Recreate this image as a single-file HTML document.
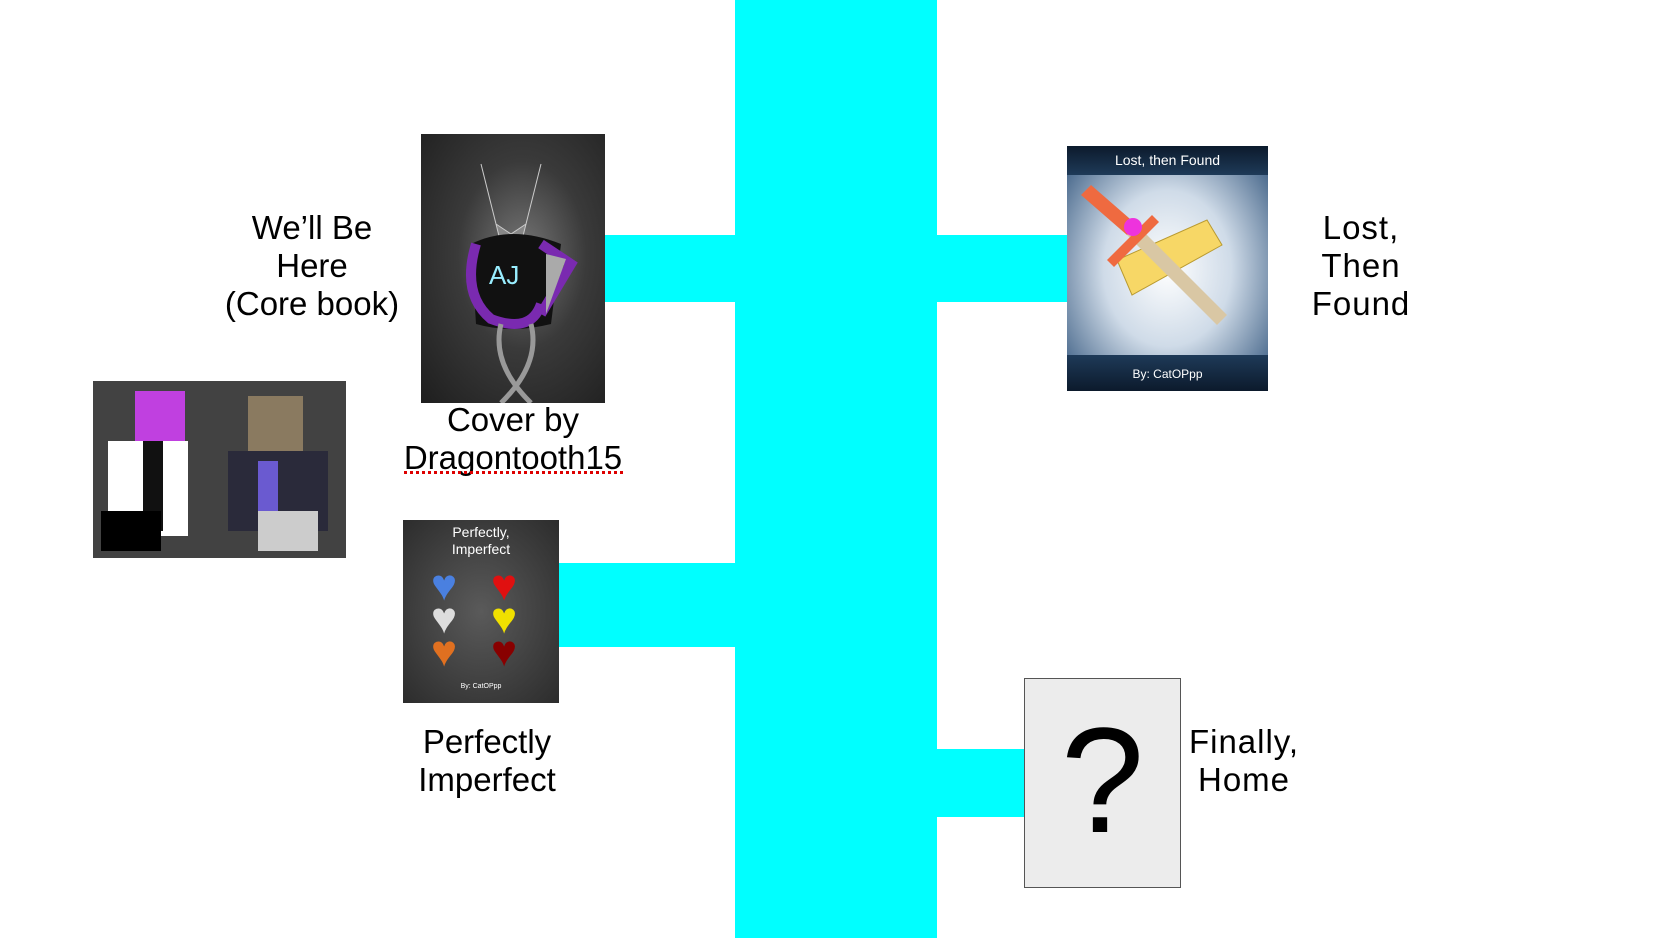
<!DOCTYPE html>
<html><head><meta charset="utf-8"><style>
body{margin:0;width:1667px;height:938px;background:#fff;position:relative;overflow:hidden;font-family:"Liberation Sans",Arial,sans-serif;}
.a{position:absolute}
.c{background:#00ffff;position:absolute}
.t{position:absolute;font-size:33px;color:#000;text-align:center;line-height:38px;white-space:nowrap}
.h{position:absolute;font-size:44px;line-height:44px}
</style></head><body>
<div class="c" style="left:735px;top:0;width:202px;height:938px"></div>
<div class="c" style="left:605px;top:235px;width:130px;height:67px"></div>
<div class="c" style="left:559px;top:563px;width:176px;height:84px"></div>
<div class="c" style="left:937px;top:235px;width:130px;height:67px"></div>
<div class="c" style="left:937px;top:749px;width:87px;height:68px"></div>

<!-- cover 1 -->
<div class="a" style="left:421px;top:134px;width:184px;height:269px;background:radial-gradient(ellipse at 55% 45%,#777 0%,#3a3a3a 45%,#1e1e1e 100%)">
<svg width="184" height="269">
<path d="M60 30 L80 110 L100 110 L120 30 L105 90 L90 100 L75 90Z" fill="#888" stroke="#ccc"/>
<path d="M50 110 Q90 90 140 110 L130 190 Q90 200 55 190Z" fill="#111"/>
<path d="M55 110 Q40 160 70 185 Q110 200 120 170 M120 110 L150 130 L120 180" stroke="#7a2ab0" stroke-width="10" fill="none"/>
<path d="M125 120 L145 125 L125 180Z" fill="#aaa"/>
<text x="68" y="150" font-size="26" fill="#9ef" font-family="Liberation Sans">AJ</text>
<path d="M80 190 Q70 230 110 269 M110 190 Q120 230 80 269" stroke="#999" stroke-width="5" fill="none"/>
</svg></div>
<div class="t" style="left:212px;top:209px;width:200px">We’ll Be<br>Here<br>(Core book)</div>
<div class="t" style="left:403px;top:401px;width:220px">Cover by<br>Dragontooth15</div>
<div class="a" style="left:404px;top:471px;width:219px;border-top:3px dotted #d00"></div>

<!-- minecraft -->
<div class="a" style="left:93px;top:381px;width:253px;height:177px;background:#424242">
<div class="a" style="left:42px;top:10px;width:50px;height:50px;background:#c040e0"></div>
<div class="a" style="left:15px;top:60px;width:80px;height:95px;background:#fff"></div>
<div class="a" style="left:50px;top:60px;width:20px;height:90px;background:#111"></div>
<div class="a" style="left:8px;top:130px;width:60px;height:40px;background:#000"></div>
<div class="a" style="left:155px;top:15px;width:55px;height:55px;background:#8a7a60"></div>
<div class="a" style="left:135px;top:70px;width:100px;height:80px;background:#2a2a3a"></div>
<div class="a" style="left:165px;top:80px;width:20px;height:60px;background:#6a5ad0"></div>
<div class="a" style="left:165px;top:130px;width:60px;height:40px;background:#ccc"></div>
</div>

<!-- perfectly cover -->
<div class="a" style="left:403px;top:520px;width:156px;height:183px;background:radial-gradient(ellipse at 50% 50%,#5a5a5a,#2c2c2c);color:#fff;text-align:center">
<div style="font-size:14px;line-height:17px;margin-top:4px">Perfectly,<br>Imperfect</div>
<div class="h" style="left:28px;top:44px;color:#4a80e0">♥</div>
<div class="h" style="left:88px;top:44px;color:#e01010">♥</div>
<div class="h" style="left:28px;top:77px;color:#ddd">♥</div>
<div class="h" style="left:88px;top:77px;color:#f0e000">♥</div>
<div class="h" style="left:28px;top:110px;color:#e07020">♥</div>
<div class="h" style="left:88px;top:110px;color:#800">♥</div>
<div class="a" style="left:0;top:163px;width:156px;font-size:7px">By: CatOPpp</div>
</div>
<div class="t" style="left:387px;top:723px;width:200px">Perfectly<br>Imperfect</div>

<!-- lost cover -->
<div class="a" style="left:1067px;top:146px;width:201px;height:245px;background:radial-gradient(ellipse at 50% 50%,#fff 0%,#cfdbe8 45%,#2c5078 100%)">
<div class="a" style="left:0;top:0;width:201px;height:29px;background:linear-gradient(#0c1a2c,#1e3a58);color:#fff;font-size:14px;line-height:29px;text-align:center">Lost, then Found</div>
<svg class="a" style="left:0;top:29px" width="201" height="180">
<path d="M50 85 L140 45 L155 70 L65 120Z" fill="#f7d766" stroke="#b99a30"/>
<path d="M70 50 L160 140 L150 150 L60 60Z" fill="#d9c7a4"/>
<path d="M14 20 L24 10 L70 50 L60 60Z" fill="#ef6a40"/>
<path d="M40 85 L85 40 L92 47 L47 92Z" fill="#ef6a40"/>
<circle cx="66" cy="52" r="9" fill="#ee33dd"/>
</svg>
<div class="a" style="left:0;top:209px;width:201px;height:36px;background:linear-gradient(#1e3a58,#0c1a2c);color:#fff;font-size:12px;line-height:38px;text-align:center">By: CatOPpp</div>
</div>
<div class="t" style="left:1281px;top:209px;width:160px;letter-spacing:1px">Lost,<br>Then<br>Found</div>

<!-- question -->
<div class="a" style="left:1024px;top:678px;width:155px;height:208px;background:#ececec;border:1px solid #555"></div>
<div class="a" style="left:1024px;top:690px;width:157px;text-align:center;font-size:150px;line-height:180px;font-family:'Liberation Sans',sans-serif">?</div>
<div class="t" style="left:1164px;top:723px;width:160px;letter-spacing:1px">Finally,<br>Home</div>
</body></html>
